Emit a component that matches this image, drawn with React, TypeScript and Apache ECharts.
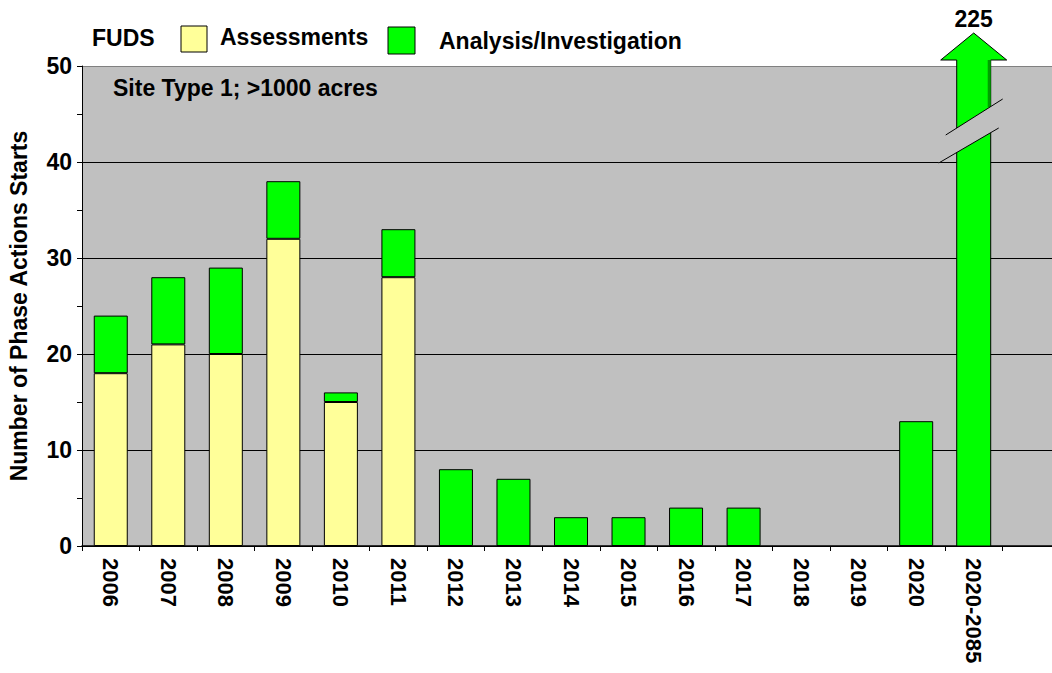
import React, { useEffect, useRef } from "react";
import * as echarts from "echarts";

const categories = [
  "2006", "2007", "2008", "2009", "2010", "2011", "2012", "2013", "2014",
  "2015", "2016", "2017", "2018", "2019", "2020", "2020-2085", "",
];
const assessments = [18, 21, 20, 32, 15, 28, 0, 0, 0, 0, 0, 0, 0, 0, 0, 0, 0];
const analysis = [6, 7, 9, 6, 1, 5, 8, 7, 3, 3, 4, 4, 0, 0, 13, 225, 0];
const yMax = 50;
const yTicks = [0, 10, 20, 30, 40, 50];

const FONT = "'Liberation Sans', Arial, sans-serif";
const YELLOW = "#FFFF99";
const GREEN = "#00FF00";
const PLOT_BG = "#C0C0C0";

export default function App() {
  const ref = useRef<HTMLDivElement>(null);
  useEffect(() => {
    if (!ref.current) return;
    const chart = echarts.init(ref.current, null, { renderer: "svg" });

    const overflowIdx = analysis.map((v, i) => (assessments[i] + v > yMax ? i : -1)).filter((i) => i >= 0);

    const option: any = {
      animation: false,
      backgroundColor: "#ffffff",
      textStyle: { fontFamily: FONT },
      grid: {
        left: 82,
        top: 66,
        width: 978,
        height: 480,
        show: true,
        backgroundColor: PLOT_BG,
        borderWidth: 0,
        containLabel: false,
        outerBoundsMode: "none",
      },
      xAxis: {
        type: "category",
        data: categories,
        axisLine: { lineStyle: { color: "#000", width: 1.5 } },
        axisTick: { show: true, alignWithLabel: false, interval: 0, length: 5, lineStyle: { color: "#000" } },
        axisLabel: {
          interval: 0,
          rotate: -90,
          color: "#000",
          fontFamily: FONT,
          fontWeight: "bold",
          fontSize: 22,
          margin: 12,
        },
        splitLine: { show: false },
      },
      yAxis: {
        type: "value",
        min: 0,
        max: yMax,
        interval: 10,
        name: "Number of Phase Actions Starts",
        nameLocation: "middle",
        nameGap: 52,
        nameTextStyle: { color: "#000", fontFamily: FONT, fontWeight: "bold", fontSize: 23 },
        axisLine: { show: true, lineStyle: { color: "#000", width: 1 } },
        axisTick: { show: true, length: 5, lineStyle: { color: "#000" } },
        minorTick: { show: true, splitNumber: 2, length: 5, lineStyle: { color: "#000" } },
        axisLabel: {
          color: "#000",
          fontFamily: FONT,
          fontWeight: "bold",
          fontSize: 23,
          margin: 10,
          formatter: (v: number) => (yTicks.includes(v) ? String(v) : ""),
        },
        splitLine: {
          show: true,
          lineStyle: { color: ["#000", "#000", "#000", "#000", "#000", "#808080"], width: 1 },
        },
      },
      series: [
        {
          name: "Assessments",
          type: "bar",
          stack: "a",
          barWidth: 34,
          data: assessments.map((v) => (v > 0 ? v : "-")),
          itemStyle: { color: YELLOW, borderColor: "#000", borderWidth: 1 },
        },
        {
          name: "Analysis/Investigation",
          type: "bar",
          stack: "a",
          barWidth: 34,
          data: analysis.map((v, i) => (v > 0 && !overflowIdx.includes(i) ? v : "-")),
          itemStyle: { color: GREEN, borderColor: "#000", borderWidth: 1 },
        },
        {
          name: "overflow",
          type: "custom",
          clip: false,
          z: 10,
          data: overflowIdx.map((i) => [i, analysis[i]]),
          renderItem: (params: any, api: any) => {
            const idx = api.value(0);
            const total = api.value(1);
            const base = api.coord([idx, 0]);
            const top = api.coord([idx, yMax]);
            const cx = base[0];
            const half = 17;
            const L = cx - half;
            const R = cx + half;
            const headBase = top[1] - 6;
            const tip = top[1] - 33;
            const headHalf = 33;
            const y40 = api.coord([idx, 40])[1];
            return {
              type: "group",
              children: [
                {
                  type: "polygon",
                  shape: {
                    points: [
                      [L, base[1]],
                      [L, headBase],
                      [cx - headHalf, headBase],
                      [cx, tip],
                      [cx + headHalf, headBase],
                      [R, headBase],
                      [R, base[1]],
                    ],
                  },
                  style: { fill: GREEN, stroke: "#000", lineWidth: 1 },
                },
                {
                  type: "rect",
                  shape: { x: R - 3, y: headBase, width: 3, height: y40 - 55 - headBase },
                  style: { fill: "#00A000" },
                },
                {
                  type: "polygon",
                  shape: {
                    points: [
                      [cx + 29, y40 - 63],
                      [cx - 28, y40 - 27],
                      [cx - 35, y40 + 1],
                      [cx + 25, y40 - 34],
                    ],
                  },
                  style: { fill: PLOT_BG },
                },
                {
                  type: "line",
                  shape: { x1: cx + 29, y1: y40 - 63, x2: cx - 28, y2: y40 - 27 },
                  style: { stroke: "#000", lineWidth: 1 },
                },
                {
                  type: "line",
                  shape: { x1: cx + 25, y1: y40 - 34, x2: cx - 35, y2: y40 + 1 },
                  style: { stroke: "#000", lineWidth: 1 },
                },
                {
                  type: "text",
                  x: cx,
                  y: tip - 3,
                  style: {
                    text: String(total),
                    fill: "#000",
                    font: `bold 23px ${FONT}`,
                    textAlign: "center",
                    textVerticalAlign: "bottom",
                  },
                },
              ],
            };
          },
        },
      ],
      graphic: [
        {
          type: "text",
          left: 92,
          top: 26,
          style: { text: "FUDS", fill: "#000", font: `bold 23px ${FONT}` },
        },
        {
          type: "rect",
          shape: { x: 181, y: 26, width: 26, height: 26 },
          style: { fill: YELLOW, stroke: "#000", lineWidth: 1 },
        },
        {
          type: "text",
          left: 220,
          top: 25,
          style: { text: "Assessments", fill: "#000", font: `bold 23px ${FONT}` },
        },
        {
          type: "rect",
          shape: { x: 388, y: 27, width: 27, height: 27 },
          style: { fill: GREEN, stroke: "#000", lineWidth: 1 },
        },
        {
          type: "text",
          left: 439,
          top: 29,
          style: { text: "Analysis/Investigation", fill: "#000", font: `bold 23px ${FONT}` },
        },
        {
          type: "text",
          left: 113,
          top: 76,
          z: 20,
          style: { text: "Site Type 1; >1000 acres", fill: "#000", font: `bold 23px ${FONT}` },
        },
      ],
    };
    chart.setOption(option);
    return () => chart.dispose();
  }, []);

  return <div ref={ref} style={{ width: 1052, height: 673, position: "absolute", left: 0, top: 0 }} />;
}
